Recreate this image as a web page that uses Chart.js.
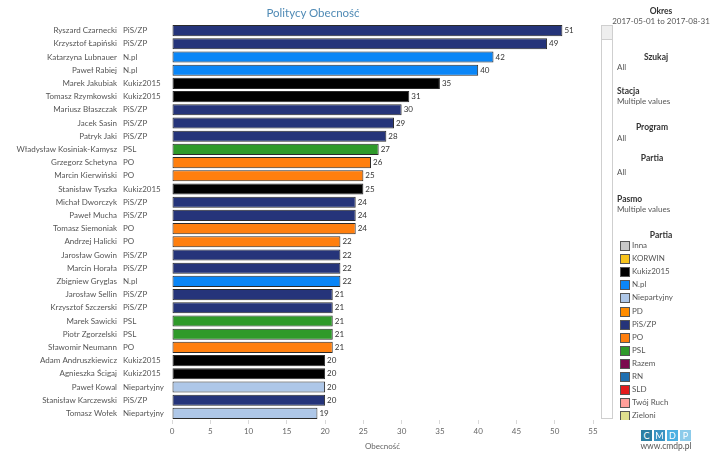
<!DOCTYPE html>
<html>
<head>
<meta charset="utf-8">
<script src="https://cdn.jsdelivr.net/npm/chart.js@4/dist/chart.umd.min.js"></script>
<style>
  html, body { margin: 0; padding: 0; background: #fff; }
  body { width: 720px; height: 451px; position: relative; overflow: hidden; font-family: Lato, "Open Sans", sans-serif; }
  #wrap { position: absolute; left: 0; top: 0; width: 720px; height: 451px; }
  .t { position: absolute; font-size: 8px; color: #555; white-space: nowrap; line-height: 1; }
  .h { position: absolute; font-size: 8.5px; color: #333; font-weight: bold; white-space: nowrap; line-height: 1; }
  .c { transform: translateX(-50%); }
  #title { position: absolute; left: 313px; top: 6px; transform: translateX(-50%); font-size: 11.5px; color: #4f8ab5; white-space: nowrap; }
  #scroll { position: absolute; left: 601px; top: 25px; width: 10px; height: 393px; border: 1px solid #cfcfcf; border-top: none; }
  #thumb { position: absolute; left: 601px; top: 25px; width: 10px; height: 13px; border: 1px solid #cfcfcf; background: #eeeeee; }
  #legend { position: absolute; left: 618px; top: 240px; width: 100px; height: 180px; overflow: hidden; }
  .li { position: absolute; left: 0; height: 12px; font-size: 8px; color: #555; white-space: nowrap; }
  .sw { position: absolute; left: 2px; top: 1px; width: 8px; height: 8px; border: 1px solid #555; }
  .lt { position: absolute; left: 14px; top: 0px; line-height: 11px; }
  .logo { position: absolute; top: 430px; width: 11px; height: 11px; color: #fff; font-size: 9px; text-align: center; line-height: 11px; }
</style>
</head>
<body>
<div id="wrap"><canvas id="c" width="720" height="451"></canvas></div>
<div id="title">Politycy Obecność</div>

<div class="h c" style="left:661px;top:7px;">Okres</div>
<div class="t c" style="left:661px;top:17px;">2017-05-01 to 2017-08-31</div>
<div id="scroll"></div>
<div id="thumb"></div>
<div class="h c" style="left:656px;top:53px;">Szukaj</div>
<div class="t" style="left:617px;top:63px;">All</div>
<div class="h" style="left:617px;top:87px;">Stacja</div>
<div class="t" style="left:617px;top:97px;">Multiple values</div>
<div class="h c" style="left:652px;top:123px;">Program</div>
<div class="t" style="left:617px;top:134px;">All</div>
<div class="h c" style="left:652px;top:154px;">Partia</div>
<div class="t" style="left:617px;top:168px;">All</div>
<div class="h" style="left:617px;top:195px;">Pasmo</div>
<div class="t" style="left:617px;top:205px;">Multiple values</div>
<div class="h c" style="left:661px;top:231px;">Partia</div>
<div id="legend"></div>

<div class="logo" style="left:641px;background:#2b7fa3;">C</div>
<div class="logo" style="left:654px;background:#3a93c2;">M</div>
<div class="logo" style="left:667px;background:#4bb0e2;">D</div>
<div class="logo" style="left:680px;background:#8ccbea;">P</div>
<div class="t c" style="left:666px;top:442px;color:#555;font-size:8.5px;">www.cmdp.pl</div>

<script>
// ---- data ----
const names = ["Ryszard Czarnecki","Krzysztof Łapiński","Katarzyna Lubnauer","Paweł Rabiej","Marek Jakubiak","Tomasz Rzymkowski","Mariusz Błaszczak","Jacek Sasin","Patryk Jaki","Władysław Kosiniak-Kamysz","Grzegorz Schetyna","Marcin Kierwiński","Stanisław Tyszka","Michał Dworczyk","Paweł Mucha","Tomasz Siemoniak","Andrzej Halicki","Jarosław Gowin","Marcin Horała","Zbigniew Gryglas","Jarosław Sellin","Krzysztof Szczerski","Marek Sawicki","Piotr Zgorzelski","Sławomir Neumann","Adam Andruszkiewicz","Agnieszka Ścigaj","Paweł Kowal","Stanisław Karczewski","Tomasz Wołek"];
const parties = ["PiS/ZP","PiS/ZP","N.pl","N.pl","Kukiz2015","Kukiz2015","PiS/ZP","PiS/ZP","PiS/ZP","PSL","PO","PO","Kukiz2015","PiS/ZP","PiS/ZP","PO","PO","PiS/ZP","PiS/ZP","N.pl","PiS/ZP","PiS/ZP","PSL","PSL","PO","Kukiz2015","Kukiz2015","Niepartyjny","PiS/ZP","Niepartyjny"];
const obecnosc = [51,49,42,40,35,31,30,29,28,27,26,25,25,24,24,24,22,22,22,22,21,21,21,21,21,20,20,20,20,19];
const xTicks = [0,5,10,15,20,25,30,35,40,45,50,55];
const legendParties = ["Inna","KORWIN","Kukiz2015","N.pl","Niepartyjny","PD","PiS/ZP","PO","PSL","Razem","RN","SLD","Twój Ruch","Zieloni"];
const partyColors = {
  "Inna":"#c8c8c8","KORWIN":"#f7c31c","Kukiz2015":"#000000","N.pl":"#0a86f7","Niepartyjny":"#aec7e8",
  "PD":"#ff8c00","PiS/ZP":"#25347a","PO":"#ff7f0e","PSL":"#2f9a2a","Razem":"#7b0a4e","RN":"#1f6fb0",
  "SLD":"#e31a1c","Twój Ruch":"#ff9f9a","Zieloni":"#dede8e"
};

// legend
const lg = document.getElementById('legend');
legendParties.forEach((p, i) => {
  const d = document.createElement('div');
  d.className = 'li';
  d.style.top = (i * 13.1) + 'px';
  d.innerHTML = '<div class="sw" style="background:' + partyColors[p] + '"></div><div class="lt">' + p + '</div>';
  lg.appendChild(d);
});

const FONT = 'Lato, "Open Sans", sans-serif';

const labelPlugin = {
  id: 'labels',
  afterDatasetsDraw(chart) {
    const ctx = chart.ctx;
    const ys = chart.scales.y;
    const meta = chart.getDatasetMeta(0);
    ctx.save();
    ctx.font = '8px ' + FONT;
    ctx.textBaseline = 'middle';
    names.forEach((n, i) => {
      const y = ys.getPixelForValue(i);
      ctx.fillStyle = '#555';
      ctx.textAlign = 'right';
      ctx.fillText(n, 117, y);
      ctx.textAlign = 'left';
      ctx.fillText(parties[i], 123, y);
      const bar = meta.data[i];
      ctx.fillStyle = '#333';
      ctx.fillText(String(obecnosc[i]), bar.x + 2, y);
    });
    ctx.restore();
  }
};

new Chart(document.getElementById('c'), {
  type: 'bar',
  data: {
    labels: names,
    datasets: [{
      data: obecnosc,
      backgroundColor: parties.map(p => partyColors[p]),
      borderColor: '#2a2a2a',
      borderWidth: 1,
      borderSkipped: false,
      barPercentage: 0.84,
      categoryPercentage: 1.0
    }]
  },
  options: {
    indexAxis: 'y',
    responsive: false,
    animation: false,
    devicePixelRatio: 1,
    layout: { padding: { left: 172, right: 127, top: 24, bottom: 0 } },
    plugins: { legend: { display: false }, tooltip: { enabled: false }, title: { display: false } },
    scales: {
      y: { display: false },
      x: {
        type: 'linear',
        min: 0, max: 55,
        afterBuildTicks(scale) { scale.ticks = xTicks.map(v => ({ value: v })); },
        afterFit(scale) { scale.height = 31; },
        border: { display: false },
        grid: { drawOnChartArea: false, drawTicks: true, tickLength: 4, color: '#d8d8d8' },
        ticks: { font: { family: FONT, size: 8 }, color: '#666', padding: 3, maxRotation: 0 },
        title: { display: true, text: 'Obecność', font: { family: FONT, size: 8 }, color: '#666', padding: { top: 1, bottom: 0 } }
      }
    }
  },
  plugins: [labelPlugin]
});
</script>
</body>
</html>
